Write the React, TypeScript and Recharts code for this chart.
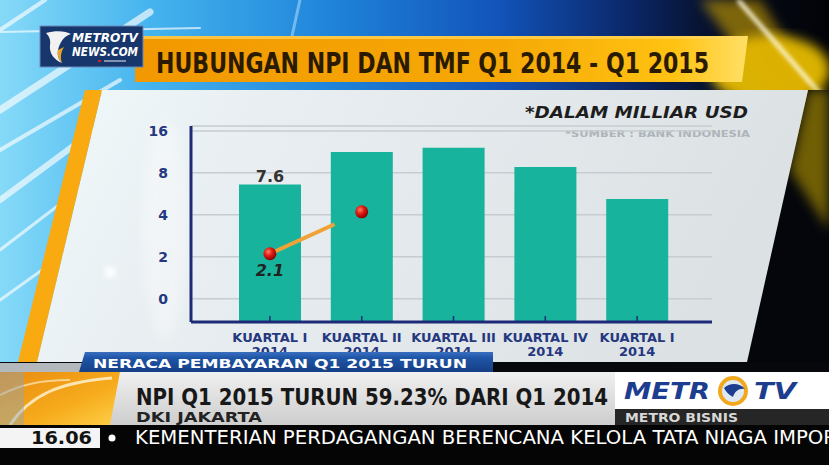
import React from "react";
import {
  ComposedChart,
  Bar,
  Line,
  XAxis,
  YAxis,
  CartesianGrid,
  LabelList,
} from "recharts";

// categories on the x axis (two lines each)
const QUARTERS = ["KUARTAL I", "KUARTAL II", "KUARTAL III", "KUARTAL IV", "KUARTAL I"];
const YEARS = ["2014", "2014", "2014", "2014", "2014"];

// TMF bars in miliar USD
const TMF = [6.6, 11.3, 12.1, 8.8, 5.2];
const TMF_LABELS = ["7.6", "", "", "", ""];

// NPI line: only the first two points are on screen in this frame
const NPI = [2.1, 4.2, null, null, null];
const NPI_LABELS = ["2.1", "", "", "", ""];

// the graphic uses a doubling (log) axis, bottom tick is printed as "0"
const Y_TICKS = [1, 2, 4, 8, 16];
const Y_TICK_LABELS = ["0", "2", "4", "8", "16"];
const Y_DOMAIN: [number, number] = [0.68, 17.35];

const NAVY = "#1c2a78";
const TICK_TEXT = "#25377f";
const BAR_COLOR = "#17b39c";
const LINE_COLOR = "#f0a236";
const CONDENSED = "'DejaVu Sans Condensed', 'DejaVu Sans', sans-serif";

const chartData = QUARTERS.map((_, i) => ({
  i,
  tmf: TMF[i],
  tmfLabel: TMF_LABELS[i],
  npi: NPI[i],
  npiLabel: NPI_LABELS[i],
}));

function XTick({ x, y, payload }: any) {
  const i = Number(payload.value);
  return (
    <g>
      <line x1={x} x2={x} y1={y - 6} y2={y - 1} stroke={NAVY} strokeWidth={1.5} />
      <text x={x} y={y + 20} textAnchor="middle" fontSize={13} fontWeight="bold" fill={TICK_TEXT}>
        {QUARTERS[i]}
      </text>
      <text x={x} y={y + 34} textAnchor="middle" fontSize={13} fontWeight="bold" fill={TICK_TEXT}>
        {YEARS[i]}
      </text>
    </g>
  );
}

function YTick({ x, y, payload }: any) {
  const idx = Y_TICKS.indexOf(Number(payload.value));
  return (
    <text x={x} y={y} dy={5} textAnchor="end" fontSize={14} fontWeight="bold" fill={TICK_TEXT}>
      {Y_TICK_LABELS[idx] ?? ""}
    </text>
  );
}

function RedDot(props: any) {
  const { cx, cy, index } = props;
  if (typeof cy !== "number" || Number.isNaN(cy)) return <g key={`d${index}`} />;
  return <circle key={`d${index}`} cx={cx} cy={cy} r={6.5} fill="url(#redBall)" />;
}

function TmfLabel(props: any) {
  const { x, y, width, value } = props;
  if (!value) return null;
  return (
    <text x={x + width / 2} y={y - 2} textAnchor="middle" fontSize={16} fontWeight="bold" fill="#333">
      {value}
    </text>
  );
}

function NpiLabel(props: any) {
  const { x, y, value } = props;
  if (!value || typeof y !== "number") return null;
  return (
    <text x={x} y={y + 22} textAnchor="middle" fontSize={16} fontWeight="bold" fontStyle="italic" fill="#222">
      {value}
    </text>
  );
}

function Backdrop() {
  return (
    <svg width={829} height={465} style={{ position: "absolute", left: 0, top: 0 }}>
      <defs>
        <linearGradient id="sky" x1="0" y1="0" x2="1" y2="0">
          <stop offset="0" stopColor="#86daf8" />
          <stop offset="0.18" stopColor="#45b4ee" />
          <stop offset="0.4" stopColor="#1f84da" />
          <stop offset="0.6" stopColor="#1254ba" />
          <stop offset="0.76" stopColor="#0b2768" />
          <stop offset="0.88" stopColor="#050b1c" />
          <stop offset="1" stopColor="#020306" />
        </linearGradient>
        <linearGradient id="panel" x1="0" y1="0" x2="1" y2="0.2">
          <stop offset="0" stopColor="#f1f9fb" />
          <stop offset="0.3" stopColor="#e8eef1" />
          <stop offset="1" stopColor="#dce1e4" />
        </linearGradient>
        <linearGradient id="banner" x1="0" y1="0" x2="1" y2="0">
          <stop offset="0" stopColor="#f29800" />
          <stop offset="0.6" stopColor="#f6a906" />
          <stop offset="0.88" stopColor="#ffc212" />
          <stop offset="1" stopColor="#ffe066" />
        </linearGradient>
        <filter id="blur6">
          <feGaussianBlur stdDeviation="6" />
        </filter>
        <filter id="blur2">
          <feGaussianBlur stdDeviation="2" />
        </filter>
      </defs>

      <rect width={829} height={465} fill="url(#sky)" />

      {/* light streaks, top left */}
      <g stroke="#ffffff" strokeLinecap="round" opacity={0.65}>
        <line x1={0} y1={30} x2={45} y2={0} strokeWidth={4} />
        <line x1={0} y1={110} x2={150} y2={12} strokeWidth={7} />
        <line x1={0} y1={150} x2={120} y2={80} strokeWidth={4} />
        <line x1={0} y1={200} x2={95} y2={130} strokeWidth={6} />
        <line x1={0} y1={250} x2={85} y2={185} strokeWidth={3} />
        <line x1={0} y1={300} x2={70} y2={250} strokeWidth={3} />
        <line x1={0} y1={32} x2={200} y2={28} strokeWidth={2} />
      </g>
      <line x1={300} y1={0} x2={292} y2={36} stroke="#bfe6ff" strokeWidth={3} opacity={0.5} />

      {/* yellow glow, top right */}
      <ellipse cx={770} cy={70} rx={60} ry={35} fill="#ffd000" opacity={0.85} filter="url(#blur6)" />
      <polygon points="700,0 760,0 829,110 829,260 790,120" fill="#e0b000" opacity={0.55} filter="url(#blur6)" />
      <line x1={738} y1={0} x2={829} y2={104} stroke="#fffbe0" strokeWidth={4} filter="url(#blur2)" />

      {/* title banner */}
      <polygon points="135,36 748,36 742,82 135,82" fill="url(#banner)" />
      <rect x={135} y={36} width={610} height={3} fill="#ffd560" opacity={0.7} />
      <text
        x={156}
        y={73}
        fontSize={29}
        fontWeight={600}
        fontFamily={CONDENSED}
        fill="#2a1a00"
        textLength={553}
        lengthAdjust="spacingAndGlyphs"
      >
        HUBUNGAN NPI DAN TMF Q1 2014 -  Q1 2015
      </text>

      {/* logo */}
      <rect x={40} y={26} width={103} height={41} fill="#17366b" stroke="#6b88bb" strokeWidth={1} />
      <path d="M46,33 C56,30 66,31 71,34 C64,36 60,42 58,50 C57,56 59,60 62,63 C54,60 49,53 50,45 C51,40 49,36 46,33 Z" fill="#f2f2f2" />
      <path d="M58,50 C57,56 59,60 62,63 C60,57 61,52 64,47 Z" fill="#e8a42a" />
      <text x={72} y={42} fontSize={13} fontWeight="bold" fontStyle="italic" fill="#fff" fontFamily={CONDENSED} textLength={66} lengthAdjust="spacingAndGlyphs">
        METROTV
      </text>
      <text x={72} y={56} fontSize={13} fontWeight="bold" fontStyle="italic" fill="#fff" fontFamily={CONDENSED} textLength={66} lengthAdjust="spacingAndGlyphs">
        NEWS.COM
      </text>
      <rect x={98} y={60} width={3} height={2} fill="#e02020" />
      <rect x={104} y={60} width={22} height={2} fill="#c8d0e0" opacity={0.6} />

      {/* dark area right of the panel */}
      <polygon points="808,90 829,90 829,372 745,372" fill="#04060c" />
      <polygon points="808,90 829,90 829,230 790,170" fill="#c9a800" opacity={0.55} filter="url(#blur6)" />

      {/* chart panel and orange edge */}
      <polygon points="102,90 808,90 747,362 37,362" fill="url(#panel)" />
      <ellipse cx={165} cy={230} rx={22} ry={110} fill="#ffffff" opacity={0.35} filter="url(#blur6)" />
      <circle cx={110} cy={272} r={6} fill="#ffffff" opacity={0.8} filter="url(#blur2)" />
      <polygon points="85,90 102,90 37,362 18,362" fill="#f9aa10" />

      <text x={748} y={118} textAnchor="end" fontSize={15} fontWeight="bold" fontStyle="italic" fill="#1d1d1d" textLength={223} lengthAdjust="spacingAndGlyphs">
        *DALAM MILLIAR USD
      </text>
      <text x={750} y={137} textAnchor="end" fontSize={9.5} fontWeight="bold" fill="#aeb4b9" textLength={185} lengthAdjust="spacingAndGlyphs">
        *SUMBER : BANK INDONESIA
      </text>

      {/* strip under the panel */}
      <rect x={0} y={362} width={829} height={10} fill="#07080c" />
      <rect x={0} y={363} width={90} height={9} fill="#b3b8bc" />
    </svg>
  );
}

function LowerThird() {
  return (
    <svg width={829} height={465} style={{ position: "absolute", left: 0, top: 0, pointerEvents: "none" }}>
      <defs>
        <linearGradient id="blueBand" x1="0" y1="0" x2="0" y2="1">
          <stop offset="0" stopColor="#3a6fc0" />
          <stop offset="0.3" stopColor="#1f55a6" />
          <stop offset="1" stopColor="#163f86" />
        </linearGradient>
        <linearGradient id="greyBand" x1="0" y1="0" x2="0" y2="1">
          <stop offset="0" stopColor="#f0f0f0" />
          <stop offset="1" stopColor="#cdcdcd" />
        </linearGradient>
        <linearGradient id="orangePiece" x1="0" y1="0" x2="1" y2="1">
          <stop offset="0" stopColor="#e98a10" />
          <stop offset="0.6" stopColor="#f6ac1c" />
          <stop offset="1" stopColor="#ffd04a" />
        </linearGradient>
      </defs>

      {/* NERACA banner */}
      <polygon points="85,352 493,352 493,372 79,372" fill="url(#blueBand)" />
      <text x={93} y={368} fontSize={13} fontWeight="bold" fill="#ffffff" fontFamily="'DejaVu Sans', sans-serif" textLength={374} lengthAdjust="spacingAndGlyphs">
        NERACA PEMBAYARAN Q1 2015 TURUN
      </text>

      {/* headline band */}
      <rect x={0} y={372} width={615} height={53} fill="url(#greyBand)" />
      <polygon points="0,372 120,372 110,425 0,425" fill="url(#orangePiece)" />
      <path d="M10,425 C30,395 60,382 112,378" stroke="#fff6d8" strokeWidth={3} fill="none" opacity={0.8} />
      <path d="M0,395 C20,385 40,380 70,380" stroke="#fff6d8" strokeWidth={2} fill="none" opacity={0.6} />
      <rect x={0} y={372} width={24} height={53} fill="#8fa6b8" opacity={0.45} />
      <text x={136} y={405} fontSize={23.5} fontWeight={600} fill="#181818" fontFamily={CONDENSED} textLength={472} lengthAdjust="spacingAndGlyphs">
        NPI Q1 2015 TURUN 59.23% DARI Q1 2014
      </text>
      <text x={136} y={422} fontSize={14} fontWeight="bold" fill="#222" fontFamily="'DejaVu Sans', sans-serif" textLength={126} lengthAdjust="spacingAndGlyphs">
        DKI JAKARTA
      </text>

      {/* Metro TV box */}
      <rect x={615} y={372} width={214} height={37} fill="#ffffff" />
      <rect x={615} y={409} width={214} height={17} fill="#262626" />
      <text x={624} y={399} fontSize={23} fontWeight={900} fontStyle="italic" fill="#1d3d8f" fontFamily="'DejaVu Sans', sans-serif" textLength={86} lengthAdjust="spacingAndGlyphs">
        METR
      </text>
      <circle cx={733} cy={391} r={13} fill="#dfe9f4" stroke="#f2a81d" strokeWidth={4} />
      <path d="M724,388 C730,382 740,383 745,389 C739,388 735,391 733,397 C729,395 726,392 724,388 Z" fill="#1d3d8f" />
      <text x={754} y={399} fontSize={23} fontWeight={900} fontStyle="italic" fill="#1d3d8f" fontFamily="'DejaVu Sans', sans-serif" textLength={42} lengthAdjust="spacingAndGlyphs">
        TV
      </text>
      <text x={625} y={422} fontSize={11.5} fontWeight="bold" fill="#d8d8d8" fontFamily="'DejaVu Sans', sans-serif" textLength={113} lengthAdjust="spacingAndGlyphs">
        METRO BISNIS
      </text>

      {/* ticker */}
      <rect x={0} y={425} width={829} height={40} fill="#050505" />
      <rect x={0} y={428} width={100} height={20} fill="#f4f4f4" />
      <text x={31} y={444} fontSize={17} fontWeight="bold" fill="#111" fontFamily="'DejaVu Sans', sans-serif" textLength={61} lengthAdjust="spacingAndGlyphs">
        16.06
      </text>
      <circle cx={112} cy={438} r={3.5} fill="#ffffff" />
      <text x={135} y={444} fontSize={19} fontWeight={500} fill="#ffffff" fontFamily={CONDENSED} textLength={702} lengthAdjust="spacingAndGlyphs">
        KEMENTERIAN PERDAGANGAN BERENCANA KELOLA TATA NIAGA IMPOR
      </text>
    </svg>
  );
}

export default function App() {
  return (
    <div
      style={{
        position: "absolute",
        left: 0,
        top: 0,
        width: 829,
        height: 465,
        overflow: "hidden",
        background: "#000",
        fontFamily: "'DejaVu Sans', sans-serif",
      }}
    >
      <Backdrop />
      <div style={{ position: "absolute", left: 0, top: 0 }}>
        <ComposedChart
          width={829}
          height={465}
          data={chartData}
          margin={{ top: 126, right: 117, bottom: 103, left: 151 }}
        >
          <defs>
            <radialGradient id="redBall" cx="0.38" cy="0.35" r="0.7">
              <stop offset="0" stopColor="#ff8068" />
              <stop offset="0.45" stopColor="#e01a12" />
              <stop offset="1" stopColor="#7a0000" />
            </radialGradient>
          </defs>
          <CartesianGrid vertical={false} stroke="#c6ccd0" strokeWidth={1.5} />
          <XAxis
            dataKey="i"
            type="category"
            height={40}
            padding={{ left: 33, right: 29 }}
            axisLine={{ stroke: NAVY, strokeWidth: 3 }}
            tickLine={false}
            tickSize={0}
            tickMargin={0}
            interval={0}
            tick={(p: any) => <XTick {...p} />}
          />
          <YAxis
            type="number"
            scale="log"
            domain={Y_DOMAIN}
            allowDataOverflow
            ticks={Y_TICKS}
            interval={0}
            width={40}
            axisLine={{ stroke: NAVY, strokeWidth: 3 }}
            tickLine={false}
            tickSize={0}
            tickMargin={23}
            tick={(p: any) => <YTick {...p} />}
          />
          <Bar dataKey="tmf" fill={BAR_COLOR} barSize={62} isAnimationActive={false}>
            <LabelList dataKey="tmfLabel" content={(p: any) => <TmfLabel {...p} />} />
          </Bar>
          <Line
            dataKey="npi"
            type="linear"
            stroke={LINE_COLOR}
            strokeWidth={4}
            strokeDasharray="71 1000"
            dot={(p: any) => <RedDot {...p} />}
            activeDot={false}
            isAnimationActive={false}
          >
            <LabelList dataKey="npiLabel" content={(p: any) => <NpiLabel {...p} />} />
          </Line>
        </ComposedChart>
      </div>
      <LowerThird />
    </div>
  );
}
